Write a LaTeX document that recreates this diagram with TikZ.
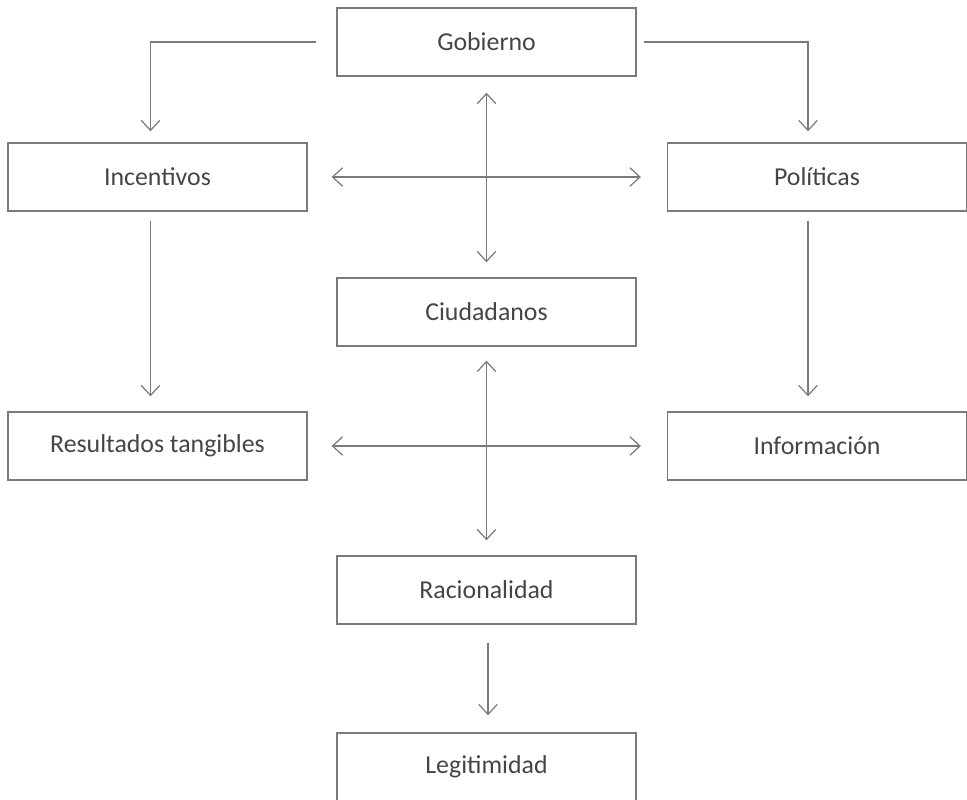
\documentclass[tikz,border=0pt]{standalone}
\usepackage{fontspec}
\setmainfont{Carlito}
\usetikzlibrary{positioning,arrows.meta,calc}
\definecolor{boxgray}{HTML}{7A7A7A}
\definecolor{textgray}{HTML}{454545}
\tikzset{
  caja/.style={draw=boxgray, line width=0.8pt, minimum width=5.98cm, minimum height=1.36cm,
    inner sep=0pt, text=textgray, font=\fontsize{14.7}{16}\selectfont},
  flecha/.style={draw=boxgray, line width=0.7pt, -{Straight Barb[length=2mm,width=3.7mm]}},
  doble/.style={flecha, {Straight Barb[length=2mm,width=3.7mm]}-{Straight Barb[length=2mm,width=3.7mm]}}
}
\begin{document}
\begin{tikzpicture}[x=0.02cm,y=-0.02cm]
  \useasboundingbox (0,0) rectangle (967,799);
  \clip (0,0) rectangle (967,799);

  % Boxes
  \node[caja] (gob) at (486.5,42) {Gobierno};
  \node[caja] (inc) at (157.5,177) {Incentivos};
  \node[caja] (pol) at (817,177) {Políticas};
  \node[caja] (ciu) at (486.5,312) {Ciudadanos};
  \node[caja] (res) at (157.5,446) {Resultados tangibles};
  \node[caja] (inf) at (817,446) {Información};
  \node[caja] (rac) at (486.5,590) {Racionalidad};
  \node[caja] (leg) at (486.5,767) {Legitimidad};

  % Gobierno to the sides
  \draw[flecha] ($(gob.west)+(-20,0)$) -| ($(inc.north)+(-7,-11)$);
  \draw[flecha] ($(gob.east)+(7,0)$) -| ($(pol.north)+(-9,-11)$);

  % Crosses
  \draw[doble] ($(gob.south)+(0,16)$) -- ($(ciu.north)+(0,-15)$);
  \draw[doble] ($(inc.east)+(24,0)$) -- ($(pol.west)+(-26,0)$);
  \draw[doble] ($(ciu.south)+(0,14)$) -- ($(rac.north)+(0,-15)$);
  \draw[doble] ($(res.east)+(24,0)$) -- ($(inf.west)+(-26,0)$);

  % Downward
  \draw[flecha] ($(inc.south)+(-7,9)$) -- ($(res.north)+(-7,-15)$);
  \draw[flecha] ($(pol.south)+(-9,9)$) -- ($(inf.north)+(-9,-15)$);
  \draw[flecha] ($(rac.south)+(1.5,18)$) -- ($(leg.north)+(1.5,-17)$);
\end{tikzpicture}
\end{document}
